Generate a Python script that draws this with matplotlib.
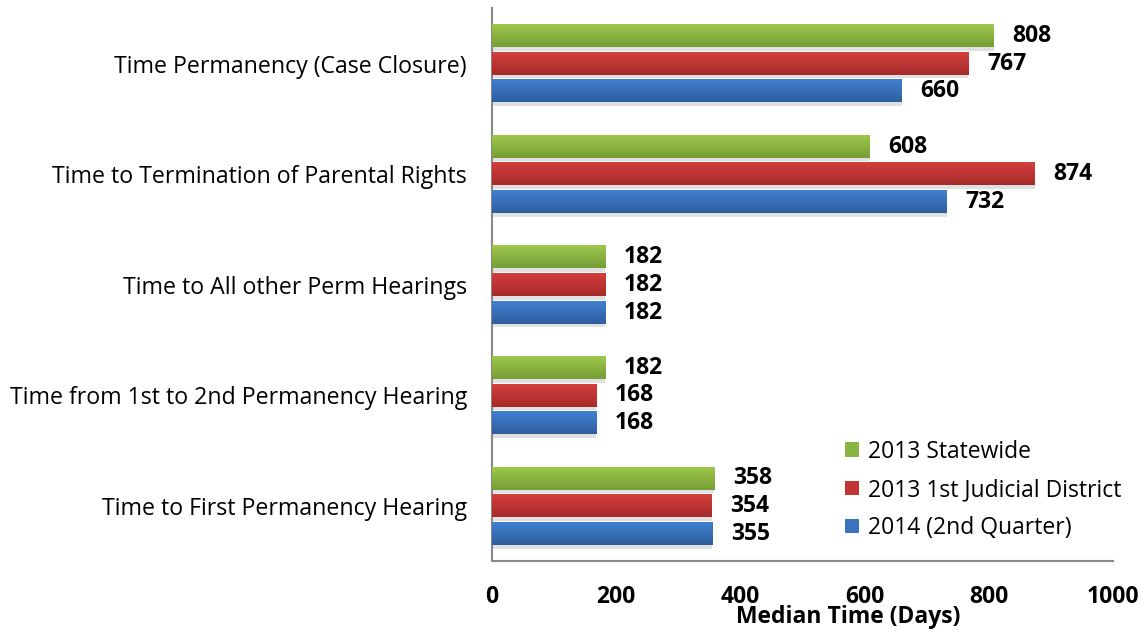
import numpy as np
import matplotlib
matplotlib.use('Agg')
from matplotlib import pyplot as plt
from matplotlib.patches import Patch

categories = ['Time to First Permanency Hearing',
              'Time from 1st to 2nd Permanency Hearing',
              'Time to All other Perm Hearings',
              'Time to Termination of Parental Rights',
              'Time Permanency (Case Closure)']
series_names = ['2013 Statewide', '2013 1st Judicial District', '2014 (2nd Quarter)']
statewide_2013 = [358, 182, 182, 608, 808]
district_2013 = [354, 168, 182, 874, 767]
quarter2_2014 = [355, 168, 182, 732, 660]
xticks = [0, 200, 400, 600, 800, 1000]

colors = ['#8BB543', '#C13633', '#3A72BE']
tops = ['#9DC84C', '#D33F3C', '#4180D0']
bottoms = ['#769E35', '#A6292A', '#2F5E9E']


def gradient_bar(ax, y, width, height, top, bottom):
    # vertical gradient clipped to the bar
    cmap = matplotlib.colors.LinearSegmentedColormap.from_list('g', [bottom, top])
    grad = np.linspace(0, 1, 64).reshape(-1, 1)
    ax.imshow(grad, cmap=cmap, aspect='auto', origin='lower',
              extent=[0, width, y - height / 2, y + height / 2], zorder=3)


def main():
    plt.rcParams['font.family'] = ['Open Sans', 'DejaVu Sans']
    fig = plt.figure(figsize=(11.44, 6.33), dpi=100)
    ax = fig.add_axes([0.430, 0.113, 0.543, 0.874])

    y = np.arange(len(categories))
    h = 0.2
    offsets = [0.25, 0.0, -0.25]
    all_series = [statewide_2013, district_2013, quarter2_2014]
    for i, vals in enumerate(all_series):
        for j, v in enumerate(vals):
            yy = y[j] + offsets[i]
            # soft shadow under each bar
            ax.barh(yy - 0.035, v, height=h, color='#000000', alpha=0.12,
                    zorder=2, linewidth=0)
            gradient_bar(ax, yy, v, h, tops[i], bottoms[i])
            ax.text(v + 30, yy, str(v), va='center', ha='left',
                    fontsize=16.5, fontweight='bold', zorder=4)

    ax.set_xlim(0, 1000)
    ax.set_ylim(-0.5, 4.5)
    ax.set_yticks(y)
    ax.set_yticklabels(categories, fontsize=16.7)
    ax.set_xticks(xticks)
    ax.set_xticklabels([str(t) for t in xticks], fontsize=16.5, fontweight='bold')
    ax.tick_params(axis='x', length=0, pad=17)
    ax.tick_params(axis='y', length=0, pad=18)
    ax.set_xlabel('Median Time (Days)', fontsize=16.5, fontweight='bold')
    ax.xaxis.set_label_coords(0.573, -0.078)

    for s in ['top', 'right']:
        ax.spines[s].set_visible(False)
    ax.spines['left'].set_color('#888888')
    ax.spines['bottom'].set_color('#888888')
    ax.spines['left'].set_linewidth(1.5)
    ax.spines['bottom'].set_linewidth(1.5)

    handles = [Patch(facecolor=c, label=n) for c, n in zip(colors, series_names)]
    ax.legend(handles=handles, loc='upper left', bbox_to_anchor=(0.568, 0.22),
              frameon=False, fontsize=16.5, handlelength=0.6, handleheight=0.6,
              handletextpad=0.4, labelspacing=0.62, borderpad=0, borderaxespad=0)

    fig.savefig('out.png', dpi=100)


if __name__ == '__main__':
    main()
